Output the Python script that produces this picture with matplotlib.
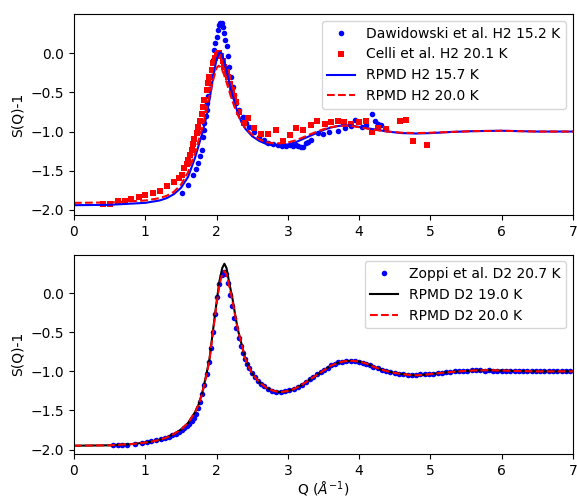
import matplotlib
matplotlib.use("Agg")
import matplotlib.pyplot as plt

# ---------------- Top panel data (H2) ----------------
daw_q = [1.51, 1.60, 1.67, 1.71, 1.74, 1.77, 1.79, 1.81, 1.82, 1.83, 1.85, 1.86, 1.87, 1.88,
         1.89, 1.90, 1.92, 1.94, 1.955, 1.97, 1.985, 2.00, 2.015, 2.03, 2.05, 2.07, 2.09, 2.11,
         2.125, 2.14, 2.16, 2.18, 2.20, 2.23, 2.25, 2.28, 2.32, 2.37, 2.42, 2.46, 2.53, 2.60,
         2.66, 2.72, 2.79, 2.86, 2.92, 2.98, 3.03, 3.07, 3.11, 3.14, 3.18, 3.21, 3.25, 3.29,
         3.33, 3.42, 3.49, 3.58, 3.70, 3.80, 3.88, 3.94, 4.04, 4.10, 4.18, 4.22, 4.26, 4.31, 4.38]
daw_s = [-1.78, -1.68, -1.55, -1.48, -1.40, -1.31, -1.23, -1.07, -0.98, -0.89, -0.80, -0.72, -0.63, -0.55,
         -0.46, -0.38, -0.29, -0.21, -0.09, 0.04, 0.13, 0.21, 0.30, 0.36, 0.38, 0.38, 0.33, 0.26,
         0.17, 0.09, -0.04, -0.17, -0.30, -0.43, -0.54, -0.64, -0.73, -0.81, -0.89, -0.94, -1.00, -1.07,
         -1.11, -1.14, -1.16, -1.17, -1.18, -1.19, -1.17, -1.18, -1.17, -1.19, -1.20, -1.20, -1.15, -1.13,
         -1.11, -1.02, -1.03, -1.01, -0.99, -0.96, -0.93, -0.85, -0.94, -0.92, -0.78, -0.86, -0.90, -0.92, -0.97]

celli_q = [0.41, 0.50, 0.62, 0.71, 0.80, 0.91, 1.00, 1.11, 1.21, 1.30, 1.40, 1.47, 1.51, 1.55, 1.58,
           1.60, 1.63, 1.65, 1.67, 1.69, 1.72, 1.74, 1.77, 1.79, 1.81, 1.83, 1.86, 1.88, 1.90, 1.93,
           1.95, 1.98, 2.00, 2.02, 2.04, 2.06, 2.09, 2.11, 2.14, 2.16, 2.19, 2.21, 2.25, 2.28, 2.32,
           2.39, 2.44, 2.53, 2.63, 2.72, 2.83, 2.93, 3.03, 3.12, 3.21, 3.32, 3.41, 3.52, 3.61, 3.70,
           3.79, 3.89, 4.00, 4.09, 4.18, 4.27, 4.38, 4.57, 4.66, 4.75, 4.95]
celli_s = [-1.92, -1.92, -1.89, -1.88, -1.86, -1.84, -1.81, -1.79, -1.76, -1.70, -1.64, -1.59, -1.55, -1.46, -1.41,
           -1.36, -1.30, -1.23, -1.16, -1.09, -1.02, -0.94, -0.86, -0.77, -0.69, -0.60, -0.47, -0.38, -0.30, -0.21,
           -0.13, -0.06, -0.02, 0.00, 0.00, -0.04, -0.10, -0.17, -0.24, -0.30, -0.39, -0.47, -0.55, -0.62, -0.75,
           -0.89, -0.83, -0.96, -1.03, -1.03, -0.98, -1.12, -1.04, -0.95, -0.98, -0.92, -0.86, -0.90, -0.88, -0.86,
           -0.88, -0.91, -0.88, -0.87, -1.01, -0.95, -0.97, -0.86, -0.85, -1.12, -1.17]

h2_157_q = [0.0, 0.5, 1.0, 1.2, 1.3, 1.4, 1.5, 1.6, 1.7, 1.8, 1.85, 1.9, 1.95, 2.0, 2.04, 2.07, 2.1,
            2.15, 2.2, 2.25, 2.3, 2.35, 2.4, 2.5, 2.6, 2.7, 2.8, 2.9, 3.0, 3.1, 3.2, 3.3, 3.4, 3.5,
            3.6, 3.7, 3.8, 3.9, 4.0, 4.2, 4.4, 4.6, 4.8, 5.0, 5.3, 5.6, 6.0, 6.5, 7.0]
h2_157_s = [-1.94, -1.935, -1.91, -1.88, -1.85, -1.80, -1.72, -1.58, -1.33, -1.02, -0.84, -0.60, -0.32, -0.08, 0.01, 0.0, -0.08,
            -0.26, -0.45, -0.62, -0.77, -0.88, -0.96, -1.06, -1.12, -1.16, -1.175, -1.175, -1.165, -1.14, -1.10, -1.06, -1.02, -0.98,
            -0.95, -0.93, -0.92, -0.925, -0.94, -0.97, -1.0, -1.02, -1.025, -1.02, -1.005, -0.995, -0.99, -1.0, -1.0]

h2_200_q = [0.0, 0.5, 1.0, 1.2, 1.3, 1.4, 1.5, 1.6, 1.7, 1.8, 1.85, 1.9, 1.95, 2.0, 2.03, 2.06, 2.1,
            2.15, 2.2, 2.25, 2.3, 2.35, 2.4, 2.5, 2.6, 2.7, 2.8, 2.9, 3.0, 3.1, 3.2, 3.3, 3.4, 3.5,
            3.6, 3.7, 3.8, 3.9, 4.0, 4.2, 4.4, 4.6, 4.8, 5.0, 5.3, 5.6, 6.0, 6.5, 7.0]
h2_200_s = [-1.91, -1.905, -1.88, -1.85, -1.82, -1.77, -1.68, -1.52, -1.27, -0.95, -0.76, -0.55, -0.35, -0.19, -0.16, -0.18, -0.26,
            -0.40, -0.55, -0.68, -0.79, -0.88, -0.95, -1.04, -1.10, -1.135, -1.15, -1.15, -1.14, -1.115, -1.08, -1.04, -1.005, -0.97,
            -0.945, -0.93, -0.925, -0.93, -0.945, -0.975, -1.0, -1.015, -1.02, -1.015, -1.005, -0.995, -0.99, -1.0, -1.0]

# ---------------- Bottom panel data (D2) ----------------
zop_q = [0.55, 0.62, 0.68, 0.75, 0.85, 0.95, 1.02, 1.08, 1.15, 1.22, 1.28, 1.33, 1.38, 1.43, 1.47, 1.51,
         1.55, 1.59, 1.62, 1.65, 1.68, 1.71, 1.74, 1.77, 1.80, 1.83, 1.86, 1.89, 1.92, 1.95, 1.98, 2.01,
         2.04, 2.07, 2.10, 2.13, 2.16, 2.19, 2.22, 2.25, 2.28, 2.31, 2.34, 2.37, 2.40, 2.43, 2.46, 2.50,
         2.54, 2.58, 2.62, 2.67, 2.72, 2.78, 2.84, 2.90, 2.96, 3.02, 3.08, 3.14, 3.20, 3.26, 3.31, 3.36,
         3.41, 3.46, 3.51, 3.56, 3.61, 3.66, 3.71, 3.76, 3.82, 3.88, 3.94, 4.00, 4.05, 4.10, 4.15, 4.20,
         4.26, 4.32, 4.38, 4.44, 4.50, 4.56, 4.62, 4.68, 4.74, 4.80, 4.86, 4.92, 4.98, 5.04, 5.10, 5.16,
         5.22, 5.28, 5.34, 5.40, 5.46, 5.52, 5.58, 5.64, 5.70, 5.76, 5.82, 5.88, 5.94, 6.00, 6.06, 6.12,
         6.18, 6.24, 6.30, 6.36, 6.42, 6.48, 6.54, 6.60, 6.66, 6.72, 6.78, 6.84, 6.90, 6.96]
zop_s = [-1.945, -1.94, -1.94, -1.935, -1.93, -1.915, -1.905, -1.895, -1.88, -1.865, -1.85, -1.835, -1.815, -1.795, -1.775, -1.755,
         -1.73, -1.70, -1.67, -1.635, -1.59, -1.54, -1.47, -1.39, -1.29, -1.17, -1.03, -0.88, -0.70, -0.50, -0.27, -0.05,
         0.12, 0.23, 0.27, 0.24, 0.13, -0.02, -0.17, -0.32, -0.45, -0.57, -0.67, -0.76, -0.84, -0.90, -0.96, -1.02,
         -1.07, -1.12, -1.16, -1.19, -1.22, -1.245, -1.26, -1.265, -1.255, -1.24, -1.225, -1.195, -1.17, -1.14, -1.10, -1.07,
         -1.04, -1.01, -0.98, -0.955, -0.925, -0.90, -0.885, -0.875, -0.865, -0.862, -0.865, -0.875, -0.89, -0.905, -0.92, -0.94,
         -0.96, -0.98, -0.995, -1.01, -1.02, -1.03, -1.04, -1.045, -1.045, -1.045, -1.04, -1.04, -1.035, -1.03, -1.02, -1.015,
         -1.01, -1.005, -1.0, -0.995, -0.99, -0.99, -0.985, -0.985, -0.985, -0.99, -0.985, -0.99, -0.99, -0.995, -0.99, -0.995,
         -0.99, -0.995, -0.995, -1.0, -0.995, -1.0, -1.0, -0.995, -1.0, -1.0, -1.0, -1.0, -1.0, -1.0]

d2_190_q = [0.0, 0.5, 0.8, 1.0, 1.1, 1.2, 1.3, 1.4, 1.5, 1.6, 1.7, 1.75, 1.8, 1.85, 1.9, 1.95, 2.0, 2.04,
            2.08, 2.11, 2.14, 2.18, 2.22, 2.26, 2.3, 2.35, 2.4, 2.45, 2.5, 2.6, 2.7, 2.8, 2.9, 3.0, 3.1,
            3.2, 3.3, 3.4, 3.5, 3.6, 3.7, 3.8, 3.9, 4.0, 4.1, 4.2, 4.3, 4.4, 4.5, 4.6, 4.7, 4.8, 4.9,
            5.0, 5.2, 5.4, 5.6, 5.8, 6.0, 6.2, 6.5, 7.0]
d2_190_s = [-1.95, -1.945, -1.93, -1.91, -1.895, -1.875, -1.845, -1.80, -1.745, -1.66, -1.52, -1.42, -1.27, -1.07, -0.85, -0.48, -0.12, 0.15,
            0.32, 0.375, 0.32, 0.12, -0.05, -0.27, -0.47, -0.65, -0.83, -0.94, -1.03, -1.14, -1.21, -1.25, -1.265, -1.25, -1.22,
            -1.17, -1.11, -1.05, -0.99, -0.93, -0.89, -0.87, -0.865, -0.875, -0.90, -0.94, -0.975, -1.0, -1.02, -1.035, -1.045, -1.05, -1.045,
            -1.035, -1.015, -1.0, -0.99, -0.985, -0.99, -0.995, -1.0, -1.0]

d2_200_q = [0.0, 0.5, 0.8, 1.0, 1.1, 1.2, 1.3, 1.4, 1.5, 1.6, 1.7, 1.75, 1.8, 1.85, 1.9, 1.95, 2.0, 2.04,
            2.08, 2.11, 2.14, 2.18, 2.22, 2.26, 2.3, 2.35, 2.4, 2.45, 2.5, 2.6, 2.7, 2.8, 2.9, 3.0, 3.1,
            3.2, 3.3, 3.4, 3.5, 3.6, 3.7, 3.8, 3.9, 4.0, 4.1, 4.2, 4.3, 4.4, 4.5, 4.6, 4.7, 4.8, 4.9,
            5.0, 5.2, 5.4, 5.6, 5.8, 6.0, 6.2, 6.5, 7.0]
d2_200_s = [-1.95, -1.945, -1.93, -1.91, -1.895, -1.875, -1.845, -1.80, -1.745, -1.66, -1.52, -1.42, -1.28, -1.08, -0.86, -0.50, -0.14, 0.10,
            0.25, 0.28, 0.24, 0.08, -0.08, -0.28, -0.47, -0.65, -0.83, -0.94, -1.03, -1.14, -1.21, -1.25, -1.265, -1.25, -1.22,
            -1.17, -1.11, -1.05, -0.99, -0.93, -0.89, -0.87, -0.865, -0.875, -0.90, -0.94, -0.975, -1.0, -1.02, -1.035, -1.045, -1.05, -1.045,
            -1.035, -1.015, -1.0, -0.99, -0.985, -0.99, -0.995, -1.0, -1.0]

x_ticks = [0, 1, 2, 3, 4, 5, 6, 7]
y_ticks = [-2.0, -1.5, -1.0, -0.5, 0.0]

fig = plt.figure(figsize=(5.77, 5.0), dpi=100)
ax1 = fig.add_axes([0.1282, 0.570, 0.8648, 0.402])
ax2 = fig.add_axes([0.1282, 0.092, 0.8648, 0.399])

ax1.plot(daw_q, daw_s, 'o', color='blue', markersize=4, markeredgewidth=0,
         label='Dawidowski et al. H2 15.2 K')
ax1.plot(celli_q, celli_s, 's', color='red', markersize=4, markeredgewidth=0,
         label='Celli et al. H2 20.1 K')
ax1.plot(h2_157_q, h2_157_s, '-', color='blue', linewidth=1.5, label='RPMD H2 15.7 K')
ax1.plot(h2_200_q, h2_200_s, '--', color='red', linewidth=1.5, label='RPMD H2 20.0 K')
ax1.set_xlim(0, 7)
ax1.set_ylim(-2.065, 0.50)
ax1.set_xticks(x_ticks)
ax1.set_yticks(y_ticks)
ax1.set_ylabel('S(Q)-1')
ax1.legend(loc='upper right')

ax2.plot(zop_q, zop_s, 'o', color='blue', markersize=4, markeredgewidth=0,
         label='Zoppi et al. D2 20.7 K')
ax2.plot(d2_190_q, d2_190_s, '-', color='black', linewidth=1.5, label='RPMD D2 19.0 K')
ax2.plot(d2_200_q, d2_200_s, '--', color='red', linewidth=1.5, label='RPMD D2 20.0 K')
ax2.set_xlim(0, 7)
ax2.set_ylim(-2.056, 0.493)
ax2.set_xticks(x_ticks)
ax2.set_yticks(y_ticks)
ax2.set_ylabel('S(Q)-1')
ax2.set_xlabel(r'Q ($\AA^{-1}$)', labelpad=1.5)
ax2.legend(loc='upper right')

fig.savefig('out.png', dpi=100)
